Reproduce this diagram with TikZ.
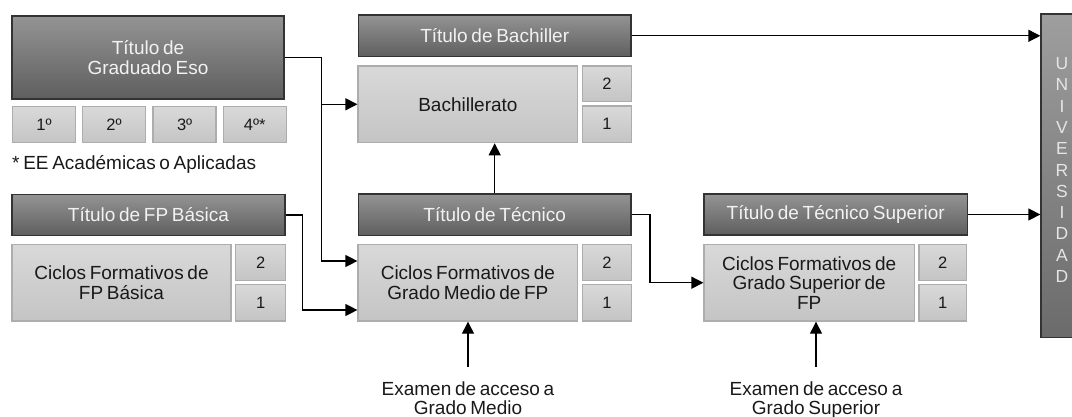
\documentclass[tikz,border=0pt]{standalone}
\usepackage{fontspec}
\setmainfont{Liberation Sans}[WordSpace=0.7]
\usetikzlibrary{arrows.meta,calc}
\definecolor{darktop}{gray}{0.58}
\definecolor{darkbot}{gray}{0.37}
\definecolor{lighttop}{gray}{0.85}
\definecolor{lightbot}{gray}{0.77}
\definecolor{lightedge}{gray}{0.68}
\definecolor{unitop}{gray}{0.62}
\definecolor{unibot}{gray}{0.42}
\definecolor{titletext}{gray}{0.95}
\definecolor{unitextc}{gray}{0.90}
\begin{document}
\begin{tikzpicture}[x=1pt,y=-1pt,
  darkbox/.style={draw=black!80,line width=1.3pt,top color=darktop,bottom color=darkbot,
    text=titletext,font=\fontsize{19}{20.5}\selectfont,align=center,inner sep=0pt},
  lightbox/.style={draw=lightedge,line width=1.3pt,top color=lighttop,bottom color=lightbot,
    text=black!90,font=\fontsize{19}{19.5}\selectfont,align=center,inner sep=0pt},
  numbox/.style={lightbox,font=\fontsize{16.5}{18}\selectfont},
  plaintext/.style={text=black!90,font=\fontsize{19}{18.5}\selectfont,align=center,inner sep=0pt},
  conn/.style={draw=black,line width=1.3pt,-{Triangle[length=12pt,width=12pt]}}]
\useasboundingbox (0,0) rectangle (1072,417);
\clip (0,0) rectangle (1072,417);

% left column
\node[darkbox,minimum width=272pt,minimum height=83pt] (grad) at (148,57.5) {Título de\\Graduado Eso};
\node[numbox,minimum width=63pt,minimum height=36pt] (e1) at (44,124.8) {1º};
\node[numbox,minimum width=63pt,minimum height=36pt] (e2) at (114,124.8) {2º};
\node[numbox,minimum width=63pt,minimum height=36pt] (e3) at (184.6,124.8) {3º};
\node[numbox,minimum width=63pt,minimum height=36pt] (e4) at (254.7,124.8) {4º*};
\node[plaintext,anchor=base west] (note) at (12,170) {* EE Académicas o Aplicadas};

\node[darkbox,minimum width=273pt,minimum height=41.5pt] (fpbt) at (148.5,215) {Título de FP Básica};
\node[lightbox,minimum width=219pt,minimum height=76.7pt] (fpb) at (121.5,282.7) {Ciclos Formativos de\\FP Básica};
\node[numbox,minimum width=50pt,minimum height=36.4pt] (fpb2) at (260.7,262.5) {2};
\node[numbox,minimum width=50pt,minimum height=36.4pt] (fpb1) at (260.7,302.7) {1};

% middle column
\node[darkbox,minimum width=272.7pt,minimum height=41.7pt] (bacht) at (494.7,35.8) {Título de Bachiller};
\node[lightbox,minimum width=219.7pt,minimum height=76.7pt] (bach) at (467.9,104.3) {Bachillerato};
\node[numbox,minimum width=49.4pt,minimum height=35.7pt] (bach2) at (607,83.8) {2};
\node[numbox,minimum width=49.4pt,minimum height=36.4pt] (bach1) at (607,124.3) {1};

\node[darkbox,minimum width=272.7pt,minimum height=41.7pt] (tect) at (494.7,214.8) {Título de Técnico};
\node[lightbox,minimum width=219.7pt,minimum height=76.7pt] (gm) at (467.9,282.7) {Ciclos Formativos de\\Grado Medio de FP};
\node[numbox,minimum width=49.4pt,minimum height=36.4pt] (gm2) at (607,262.5) {2};
\node[numbox,minimum width=49.4pt,minimum height=36.4pt] (gm1) at (607,302.7) {1};

% right column
\node[darkbox,minimum width=263.3pt,minimum height=41pt] (tst) at (835.7,214.5) {Título de Técnico Superior};
\node[lightbox,minimum width=210.3pt,minimum height=76.7pt] (gs) at (809.2,282.7) {Ciclos Formativos de\\Grado Superior de\\FP};
\node[numbox,minimum width=47.7pt,minimum height=36.4pt] (gs2) at (942.8,262.5) {2};
\node[numbox,minimum width=47.7pt,minimum height=36.4pt] (gs1) at (942.8,302.7) {1};

% universidad
\node[draw=black!80,line width=1.3pt,top color=unitop,bottom color=unibot,
  minimum width=42pt,minimum height=323.7pt,inner sep=0pt] (uni) at (1062,175.9) {};
\node[text=unitextc,font=\fontsize{17.5}{21.3}\selectfont,align=center,inner sep=0pt] (unitext)
  at (1062,170) {U\\N\\I\\V\\E\\R\\S\\I\\D\\A\\D};

% exam texts
\node[plaintext,anchor=north] (ex1) at (468,382) {Examen de acceso a\\Grado Medio};
\node[plaintext,anchor=north] (ex2) at (816,382) {Examen de acceso a\\Grado Superior};

% connectors
\coordinate (j1) at (321.7,0);
\coordinate (j2) at (302.7,0);
\coordinate (j3) at (650,0);
\coordinate (gmin1) at ($(gm.west)+(0,-21.7)$);
\coordinate (gmin2) at ($(gm.west)+(0,27.3)$);

\draw[conn] (grad.east) -| (j1 |- gmin1) -- (gmin1);
\draw[conn] (j1 |- bach.west) -- (bach.west);
\draw[conn] (fpbt.east) -| (j2 |- gmin2) -- (gmin2);
\draw[conn] (tect.north) -- (tect.north |- bach.south);
\draw[conn] (tect.east) -| (j3 |- gs.west) -- (gs.west);
\draw[conn] (bacht.east) -- (uni.west |- bacht.east);
\draw[conn] (tst.east) -- (uni.west |- tst.east);
\draw[conn] ([yshift=15.3pt]ex1.north) -- (ex1.north |- gm.south);
\draw[conn] ([yshift=15.3pt]ex2.north) -- (ex2.north |- gs.south);
\end{tikzpicture}
\end{document}
